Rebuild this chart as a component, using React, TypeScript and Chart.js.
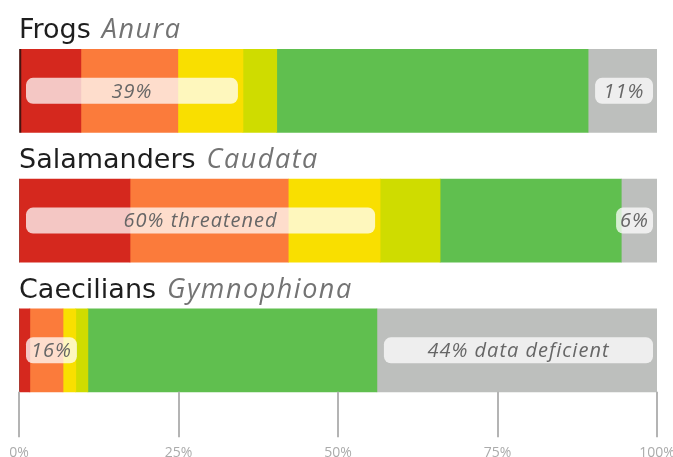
import React, { useEffect, useRef } from 'react';
import { Chart, registerables } from 'chart.js';

Chart.register(...registerables);

const categories = ['Frogs', 'Salamanders', 'Caecilians'];
const scientificNames = ['Anura', 'Caudata', 'Gymnophiona'];
const extinct = [0.3, 0, 0];
const critical = [9.4, 17.4, 1.7];
const endangered = [15.2, 24.8, 5.2];
const vulnerable = [10.2, 14.4, 2.0];
const nearThreatened = [5.3, 9.4, 1.9];
const leastConcern = [48.8, 28.4, 45.3];
const dataDeficient = [10.8, 5.6, 43.9];
const threatenedLabels = ['39%', '60% threatened', '16%'];
const deficientLabels = ['11%', '6%', '44% data deficient'];
const tickValues = [0, 25, 50, 75, 100];
const tickLabels = ['0%', '25%', '50%', '75%', '100%'];

const seriesNames = ['Extinct', 'Critically endangered', 'Endangered', 'Vulnerable', 'Near threatened', 'Least concern', 'Data deficient'];
const seriesValues = [extinct, critical, endangered, vulnerable, nearThreatened, leastConcern, dataDeficient];
const seriesColors = ['#4a1410', '#d5281e', '#fb7b3b', '#f9df00', '#cfdc00', '#60bf4f', '#bdbfbd'];

function drawBox(ctx: CanvasRenderingContext2D, left: number, right: number, cy: number, text: string) {
  const h = 26;
  ctx.save();
  ctx.fillStyle = 'rgba(255,255,255,0.74)';
  ctx.beginPath();
  (ctx as any).roundRect(left, cy - h / 2, right - left, h, 7);
  ctx.fill();
  ctx.font = 'italic 20px "Open Sans"';
  (ctx as any).letterSpacing = '1px';
  ctx.fillStyle = '#666666';
  ctx.textAlign = 'center';
  ctx.textBaseline = 'middle';
  ctx.fillText(text, (left + right) / 2, cy + 1);
  ctx.restore();
}

function measure(ctx: CanvasRenderingContext2D, text: string) {
  ctx.save();
  ctx.font = 'italic 20px "Open Sans"';
  (ctx as any).letterSpacing = '1px';
  const w = ctx.measureText(text).width;
  ctx.restore();
  return w;
}

const overlayPlugin = {
  id: 'overlay',
  afterDatasetsDraw(chart: any) {
    const ctx: CanvasRenderingContext2D = chart.ctx;
    const xs = chart.scales.x;
    const metas = chart.data.datasets.map((_: any, i: number) => chart.getDatasetMeta(i));
    let lastBottom = 0;
    categories.forEach((name, i) => {
      const first = metas[0].data[i];
      const vu = metas[3].data[i];
      const dd = metas[6].data[i];
      const top = first.y - first.height / 2;
      const cy = first.y;
      lastBottom = Math.max(lastBottom, first.y + first.height / 2);
      // title
      ctx.save();
      ctx.textAlign = 'left';
      ctx.textBaseline = 'alphabetic';
      ctx.font = '27px "DejaVu Sans"';
      ctx.fillStyle = '#1e1e1e';
      const x0 = xs.left;
      ctx.fillText(name, x0, top - 11);
      const w = ctx.measureText(name).width;
      ctx.font = 'italic 27px "Open Sans"';
      (ctx as any).letterSpacing = '1.5px';
      ctx.fillStyle = '#737373';
      ctx.fillText(scientificNames[i], x0 + w + 11, top - 11);
      ctx.restore();

      // threatened label
      const tText = threatenedLabels[i];
      const tw = measure(ctx, tText);
      const tLeft = xs.getPixelForValue(0) + 7;
      let tRight = vu.x - 5;
      if (tRight - tLeft < tw + 10) tRight = tLeft + tw + 10;
      drawBox(ctx, tLeft, tRight, cy, tText);

      // data deficient label
      const dText = deficientLabels[i];
      const dw = measure(ctx, dText);
      const dRight = dd.x - 4;
      let dLeft = dd.base + 7;
      if (dRight - dLeft < dw + 8) dLeft = dRight - dw - 8;
      drawBox(ctx, dLeft, dRight, cy, dText);
    });

    // tick lines
    ctx.save();
    ctx.strokeStyle = '#b4b4b4';
    ctx.lineWidth = 2;
    xs.ticks.forEach((_: any, k: number) => {
      const px = Math.round(xs.getPixelForTick(k));
      ctx.beginPath();
      ctx.moveTo(px, lastBottom);
      ctx.lineTo(px, chart.chartArea.bottom + 22);
      ctx.stroke();
    });
    ctx.restore();
  },
};

export default function App() {
  const canvasRef = useRef<HTMLCanvasElement | null>(null);

  useEffect(() => {
    if (!canvasRef.current) return;
    const chart = new Chart(canvasRef.current, {
      type: 'bar',
      data: {
        labels: categories,
        datasets: seriesNames.map((label, i) => ({
          label,
          data: seriesValues[i],
          backgroundColor: seriesColors[i],
          borderWidth: 0,
          barThickness: 83,
        })),
      },
      options: {
        indexAxis: 'y',
        animation: false,
        responsive: true,
        maintainAspectRatio: false,
        layout: { padding: { left: 19, right: 16, top: 26, bottom: -5 } },
        plugins: {
          legend: { display: false },
          tooltip: { enabled: false },
        },
        scales: {
          y: {
            stacked: true,
            display: false,
          },
          x: {
            stacked: true,
            min: 0,
            max: 100,
            afterBuildTicks: (scale: any) => {
              scale.ticks = tickValues.map((v) => ({ value: v }));
            },
            afterFit: (scale: any) => {
              scale.paddingLeft = 0;
              scale.paddingRight = 0;
            },
            grid: { display: true, drawOnChartArea: false, drawTicks: true, tickLength: 28, color: 'rgba(0,0,0,0)' },
            border: { display: false },
            ticks: {
              padding: 1,
              color: '#ababab',
              font: { size: 14, family: '"Open Sans"' },
              maxRotation: 0,
              autoSkip: false,
              callback: (_v: any, idx: number) => tickLabels[idx],
            },
          },
        },
      },
      plugins: [overlayPlugin],
    });
    return () => chart.destroy();
  }, []);

  return (
    <div style={{ position: 'fixed', left: 0, top: 0, width: 673, height: 457, background: '#fff' }}>
      <canvas ref={canvasRef} />
    </div>
  );
}
